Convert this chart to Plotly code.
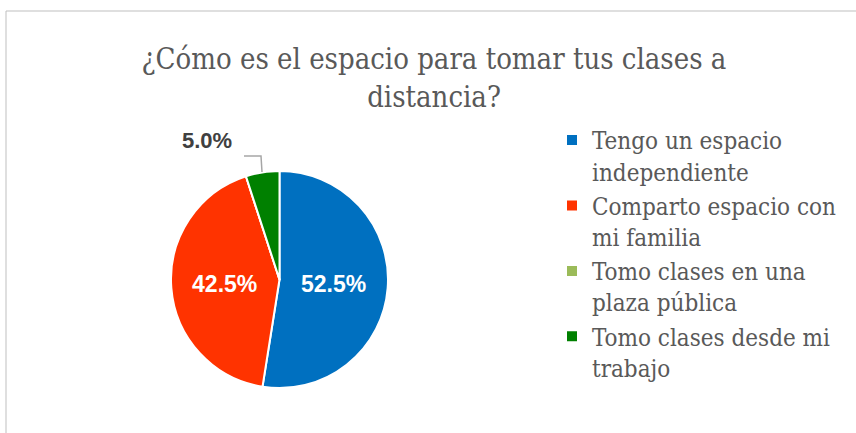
import plotly.graph_objects as go

W, H = 856, 433

categories = [
    "Tengo un espacio<br>independiente",
    "Comparto espacio con<br>mi familia",
    "Tomo clases en una<br>plaza pública",
    "Tomo clases desde mi<br>trabajo",
]
values = [52.5, 42.5, 0.0, 5.0]
colors = ["#0070C0", "#FF3300", "#9BBB59", "#008000"]
text_positions = ["inside", "inside", "none", "none"]
outside_label_index = 3

title_text = "¿Cómo es el espacio para tomar tus clases a<br>distancia?"

def px_x(p):
    return p / W

def px_y(p):
    return 1 - p / H

total = sum(values)
outside_label = f"{values[outside_label_index] / total:.1%}"

fig = go.Figure(
    go.Pie(
        labels=categories,
        values=values,
        sort=False,
        direction="clockwise",
        rotation=0,
        marker=dict(colors=colors, line=dict(color="white", width=2)),
        textposition=text_positions,
        texttemplate="%{percent:.1%}",
        insidetextorientation="horizontal",
        insidetextfont=dict(family="Liberation Sans", size=23, color="white", weight="bold"),
        domain=dict(x=[px_x(171), px_x(388)], y=[px_y(388), px_y(171)]),
        showlegend=True,
    )
)

fig.update_layout(
    width=W,
    height=H,
    margin=dict(l=0, r=0, t=0, b=0),
    paper_bgcolor="white",
    plot_bgcolor="white",
    title=dict(
        text=title_text,
        x=px_x(434),
        xanchor="center",
        y=px_y(69),
        yanchor="top",
        font=dict(family="DejaVu Serif Condensed", size=29, color="#595959"),
    ),
    legend=dict(
        x=px_x(552),
        xanchor="left",
        y=px_y(118),
        yanchor="top",
        valign="top",
        font=dict(family="DejaVu Serif Condensed", size=24, color="#595959"),
        bgcolor="rgba(0,0,0,0)",
        tracegroupgap=0,
    ),
    annotations=[
        dict(text=outside_label, x=px_x(207), y=px_y(141), xref="paper", yref="paper",
             xanchor="center", yanchor="middle", showarrow=False,
             font=dict(family="Liberation Sans", size=22, color="#404040", weight="bold")),
    ],
    shapes=[
        dict(type="line", xref="paper", yref="paper", x0=px_x(6), x1=1.02, y0=px_y(11), y1=px_y(11),
             line=dict(color="#BFBFBF", width=1)),
        dict(type="line", xref="paper", yref="paper", x0=px_x(6), x1=px_x(6), y0=px_y(11), y1=-0.05,
             line=dict(color="#BFBFBF", width=1)),
        dict(type="path", xref="paper", yref="paper",
             path=f"M {px_x(244)},{px_y(156)} L {px_x(261)},{px_y(156)} L {px_x(262)},{px_y(172)}",
             line=dict(color="#A6A6A6", width=1.5)),
    ],
)

fig.write_html(
    "out.html",
    config={"displayModeBar": False},
    post_script="document.body.style.margin='0';document.body.style.padding='0';",
)
